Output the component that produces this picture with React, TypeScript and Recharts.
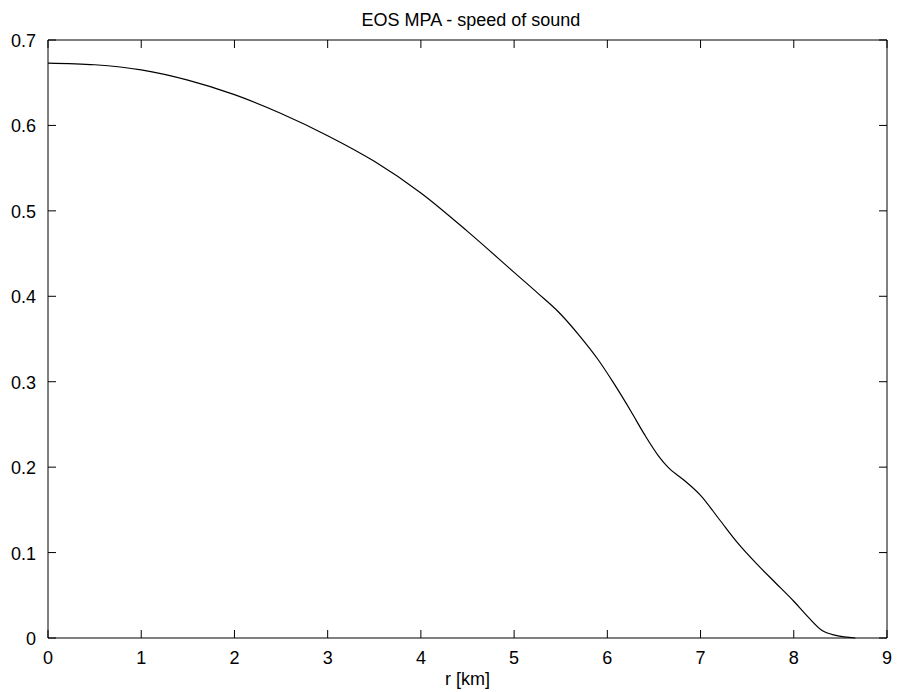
import { LineChart, Line, XAxis, YAxis } from "recharts";

// radius [km] and speed of sound
const radius = [
  0, 0.5, 1, 1.5, 2, 2.5, 3, 3.5, 4, 4.5, 5, 5.25, 5.5, 5.7, 5.9, 6.07, 6.25,
  6.4, 6.55, 6.65, 6.82, 7, 7.2, 7.4, 7.6, 7.8, 8, 8.15, 8.3, 8.45, 8.66,
];
const sound = [
  0.673, 0.671, 0.665, 0.653, 0.636, 0.614, 0.588, 0.558, 0.521, 0.476, 0.428,
  0.404, 0.379, 0.354, 0.326, 0.298, 0.266, 0.238, 0.213, 0.2, 0.185, 0.167,
  0.139, 0.111, 0.087, 0.065, 0.043, 0.025, 0.009, 0.003, 0,
];
const xTicks = [0, 1, 2, 3, 4, 5, 6, 7, 8, 9];
const yTicks = [0, 0.1, 0.2, 0.3, 0.4, 0.5, 0.6, 0.7];

const data = radius.map((r, i) => ({ r, v: sound[i] }));

const font = "'Liberation Sans', Arial, sans-serif";
const TICK = 8;

const LeftTick = ({ x, y, payload }: any) => (
  <g>
    <line x1={x} y1={y} x2={x + TICK} y2={y} stroke="#000" />
    <text x={x - 12} y={y + 7} textAnchor="end" fontSize={18} fontFamily={font} fill="#000">
      {String(payload.value)}
    </text>
  </g>
);

const RightTick = ({ x, y }: any) => (
  <line x1={x} y1={y} x2={x - TICK} y2={y} stroke="#000" />
);

const BottomTick = ({ x, y, payload }: any) => (
  <g>
    <line x1={x} y1={y} x2={x} y2={y - TICK} stroke="#000" />
    <text x={x} y={y + 26} textAnchor="middle" fontSize={18} fontFamily={font} fill="#000">
      {String(payload.value)}
    </text>
  </g>
);

const TopTick = ({ x, y }: any) => (
  <line x1={x} y1={y} x2={x} y2={y + TICK} stroke="#000" />
);

export default function App() {
  return (
    <div style={{ position: "absolute", left: 0, top: 0, width: 897, height: 692, background: "#fff" }}>
      <div
        style={{
          position: "absolute",
          left: 0,
          top: 10,
          width: 942,
          textAlign: "center",
          fontFamily: font,
          fontSize: 18,
          lineHeight: "20px",
          color: "#000",
        }}
      >
        EOS MPA - speed of sound
      </div>
      <LineChart width={897} height={692} data={data} margin={{ top: 0, right: 0, bottom: 0, left: 0 }}>
        <XAxis
          xAxisId="bottom"
          dataKey="r"
          type="number"
          domain={[0, 9]}
          ticks={xTicks}
          interval={0}
          height={54}
          tickSize={0}
          tickMargin={0}
          tickLine={false}
          axisLine={{ stroke: "#000" }}
          tick={<BottomTick />}
          label={{ value: "r [km]", position: "insideBottom", offset: 7, fontSize: 18, fontFamily: font, fill: "#000" }}
        />
        <XAxis
          xAxisId="top"
          orientation="top"
          dataKey="r"
          type="number"
          domain={[0, 9]}
          ticks={xTicks}
          interval={0}
          height={40}
          tickSize={0}
          tickMargin={0}
          tickLine={false}
          axisLine={{ stroke: "#000" }}
          tick={<TopTick />}
        />
        <YAxis
          yAxisId="left"
          type="number"
          domain={[0, 0.7]}
          ticks={yTicks}
          interval={0}
          width={48}
          tickSize={0}
          tickMargin={0}
          tickLine={false}
          axisLine={{ stroke: "#000" }}
          tick={<LeftTick />}
        />
        <YAxis
          yAxisId="right"
          orientation="right"
          type="number"
          domain={[0, 0.7]}
          ticks={yTicks}
          interval={0}
          width={10}
          tickSize={0}
          tickMargin={0}
          tickLine={false}
          axisLine={{ stroke: "#000" }}
          tick={<RightTick />}
        />
        <Line
          xAxisId="bottom"
          yAxisId="left"
          dataKey="v"
          type="monotone"
          stroke="#000"
          strokeWidth={1.2}
          dot={false}
          isAnimationActive={false}
        />
        <Line
          xAxisId="top"
          yAxisId="right"
          dataKey="v"
          stroke="none"
          dot={false}
          activeDot={false}
          isAnimationActive={false}
        />
      </LineChart>
    </div>
  );
}
